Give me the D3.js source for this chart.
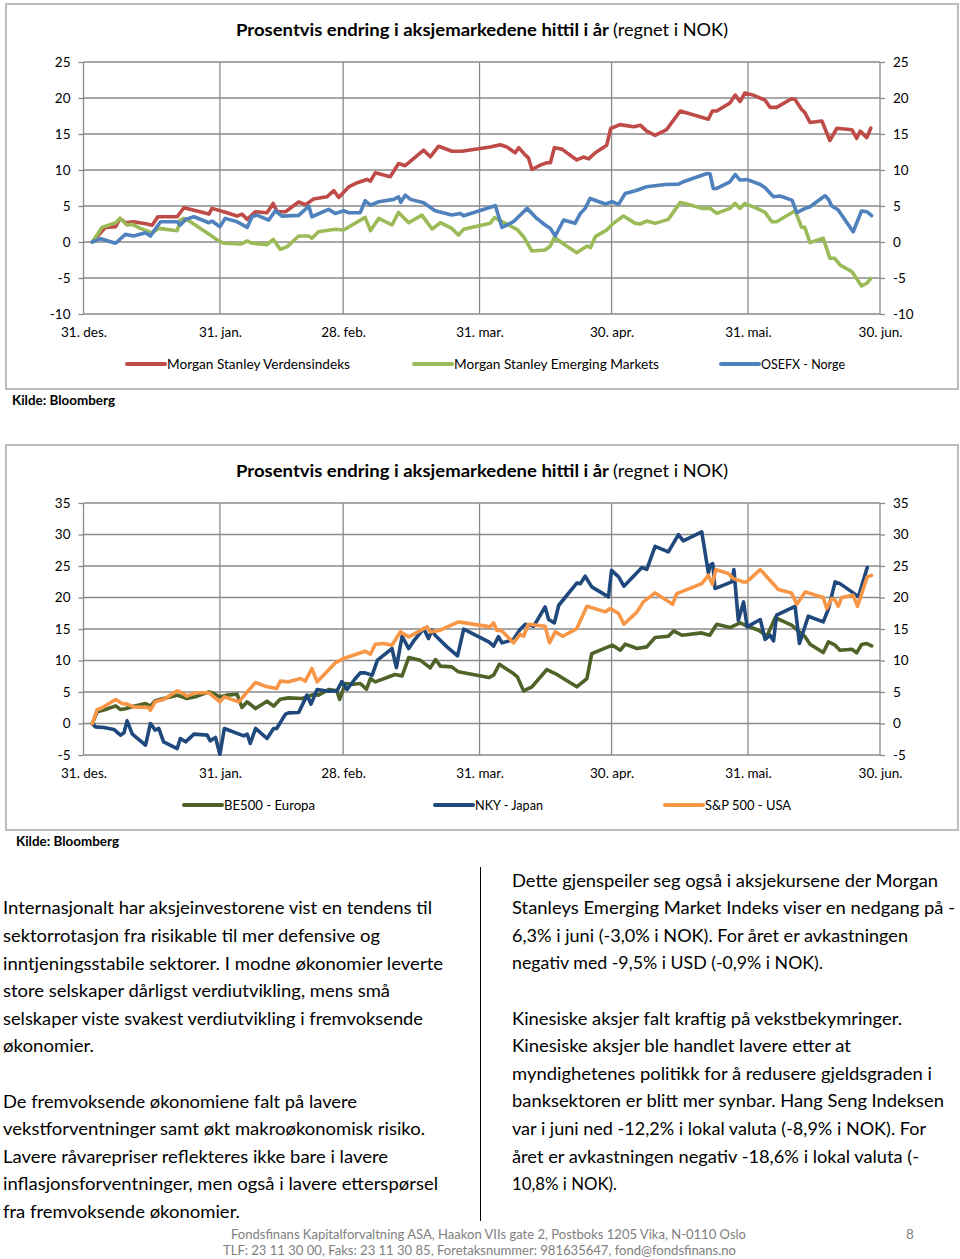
<!DOCTYPE html>
<html><head><meta charset="utf-8">
<script src="https://cdn.jsdelivr.net/npm/d3@7/dist/d3.min.js"></script>
<style>
html,body{margin:0;padding:0;background:#fff;}
svg{display:block;}
</style></head>
<body>
<svg id="page" width="960" height="1259"></svg>
<script>
// ---------- DATA (x = days since 31 Dec 2012, y = % change in NOK) ----------
const xTickDays = [0, 31, 59, 90, 120, 151, 181];
const xTickLabels = ["31. des.", "31. jan.", "28. feb.", "31. mar.", "30. apr.", "31. mai.", "30. jun."];
const chart1Ticks = [-10, -5, 0, 5, 10, 15, 20, 25];
const chart2Ticks = [-5, 0, 5, 10, 15, 20, 25, 30, 35];
const chartTitleBold = "Prosentvis endring i aksjemarkedene hittil i år";
const chartTitleNormal = "(regnet i NOK)";
const sourceLabel = "Kilde: Bloomberg";

const chart1Names = ["Morgan Stanley Verdensindeks", "Morgan Stanley Emerging Markets", "OSEFX - Norge"];
const chart2Names = ["BE500 - Europa", "NKY - Japan", "S&P 500 - USA"];

const msWorld = [[2,0],[5,2.03],[7.3,2.13],[8.3,3.28],[9.5,2.68],[11.4,2.82],[14.5,2.5],[15.6,2.31],[16.9,3.51],[21.3,3.51],[22.8,4.76],[25.8,4.3],[28.5,3.88],[29.2,4.67],[32.6,4.07],[34.9,3.6],[36,3.88],[37.2,3.14],[39.1,4.21],[41.7,4.07],[43.1,5.36],[44,4.21],[45.9,4.21],[48.9,5.55],[50.4,5.18],[52.3,5.96],[55.3,6.28],[56.9,7.12],[58,6.19],[60.3,7.67],[62.2,8.23],[64.4,8.69],[65.2,8.46],[66.3,9.61],[69.7,9.06],[71.6,10.9],[73.1,10.6],[77.3,12.75],[78.8,11.83],[80.7,13.3],[83.7,12.6],[86,12.6],[92.4,13.2],[94.7,13.5],[96.2,13.2],[98.1,12.4],[98.9,13.1],[100.4,12.06],[101.1,11.7],[101.9,10.07],[103.8,10.67],[105.3,11],[106.1,11],[107,13.1],[108.7,12.9],[112.1,11.4],[113.6,11.8],[114.8,11.55],[116.3,12.4],[118.9,13.45],[119.8,15.76],[121.9,16.3],[125,16],[126.6,16.2],[128,15.4],[129.9,14.8],[132.5,15.6],[135.6,18.2],[142,17.05],[142.9,18.2],[143.9,18.2],[146.9,19.3],[148.1,20.4],[149.2,19.5],[150.3,20.7],[152.2,20.4],[154.9,19.7],[156,18.7],[157.5,18.7],[160.9,19.9],[161.7,19.8],[163.2,18.4],[163.9,18],[165.1,16.6],[167.8,16.8],[169.6,14.1],[171.2,15.8],[174.6,15.6],[175.7,14.4],[176.5,15.4],[178,14.5],[178.9,15.8]];

const msEmerging = [[2,0],[4.2,2.03],[7.3,2.68],[8.3,3.28],[9.9,2.36],[11.1,2.45],[12.9,1.89],[15.6,1.29],[17.1,1.89],[21.3,1.57],[22,3.05],[22.8,3.28],[24.3,2.82],[28.8,0.97],[30.4,0.28],[31.9,-0.18],[35.7,-0.28],[37.2,0.14],[38.3,-0.18],[41.7,-0.37],[43.1,0.37],[44.7,-1.02],[46.3,-0.65],[48.9,0.83],[51.2,0.83],[51.9,0.51],[53.4,1.43],[57.2,1.76],[59.1,1.66],[64,3.42],[65.2,1.57],[67.1,3.28],[70.1,2.36],[71.6,4.11],[73.9,2.68],[76.9,3.74],[79.2,1.8],[81.1,2.68],[83.7,1.89],[85.2,0.97],[86.4,1.76],[92.4,2.59],[93.4,3.4],[95.1,2.82],[98.5,1.76],[100,0.74],[101.9,-1.25],[104.9,-1.11],[106.1,-0.55],[107,0.65],[109.1,-0.28],[112.1,-1.48],[114.4,-0.55],[115.2,-0.79],[116.3,0.74],[118.9,1.66],[120.4,2.59],[122.7,3.6],[125.4,2.59],[126.5,2.5],[128,2.91],[129.9,2.59],[132.9,3.14],[135.6,5.5],[137.1,5.27],[140.5,4.67],[142.4,4.67],[143.9,3.97],[146.9,4.67],[148.1,5.36],[149.2,4.67],[150.3,5.36],[153,4.67],[154.9,4.11],[156.4,2.82],[157.5,2.82],[161.7,4.34],[163.2,2.03],[163.9,2.03],[165.1,-0.09],[168.1,0.51],[169.6,-2.26],[170.7,-2.26],[171.9,-3.19],[174.6,-4.11],[176.8,-6.1],[178,-5.73],[178.9,-5.04]];

const osefx = [[2,0],[3.9,0.46],[7.3,-0.18],[9.5,1.06],[11.4,0.83],[14.1,1.29],[15.2,0.83],[17.5,2.82],[21.3,2.82],[22,2.36],[23.2,3.14],[25.1,3.51],[28.5,2.68],[29.2,2.91],[31,2.13],[32.2,3.28],[34.9,2.82],[37.2,2.03],[38.3,3.51],[39.4,3.74],[42.1,3.05],[43.6,4.34],[45.1,3.6],[48.9,3.7],[51.2,4.99],[51.9,3.51],[55.7,4.53],[57.2,3.97],[59.1,4.34],[60.3,4.07],[62.9,4.07],[64,5.73],[65.2,5.13],[67.1,5.59],[70.5,5.92],[71.6,6.28],[72.1,5.5],[73.1,6.52],[74.3,5.92],[77.3,5.45],[79.9,4.34],[83.7,3.74],[85.6,3.97],[86.4,3.65],[92.8,4.9],[93.6,5.04],[95.1,2.03],[97.7,2.82],[100.8,4.67],[103,3.28],[104.9,2.36],[106.1,1.89],[107.2,0.83],[109.1,3.05],[111.7,2.59],[112.9,3.97],[114,4.67],[115.1,6.05],[118.6,5.27],[120.1,5.59],[121.6,5.22],[123.1,6.75],[125.4,7.12],[128,7.67],[132.2,7.99],[135.2,8.04],[136.3,8.36],[141.7,9.52],[142.4,9.43],[143.1,7.44],[143.9,7.44],[146.9,8.36],[148.1,9.38],[149.2,8.6],[150.7,8.69],[153.8,7.99],[154.9,7.53],[156.8,6.28],[158.3,6.38],[161,5.82],[162.1,4.07],[164,4.67],[165.1,4.9],[168.5,6.42],[169.3,5.92],[170,5.04],[171.5,4.44],[174.9,1.43],[176.8,4.3],[178,4.21],[179.1,3.65]];

const be500 = [[2,0],[3.1,1.85],[5,2.22],[7.3,2.8],[8.4,2.22],[9.5,2.33],[11.4,2.75],[14.1,3.17],[15.2,2.75],[16.3,3.6],[18.2,3.97],[21.3,4.5],[23.5,3.97],[25.4,4.23],[28.5,5.02],[29.6,4.76],[31,4.23],[32.6,4.5],[34.9,4.65],[36,2.54],[37.2,3.44],[39.1,2.38],[41.7,3.54],[43.2,2.75],[44.7,3.86],[46.6,4.07],[49.7,3.97],[52.3,4.6],[53.4,4.5],[55.7,5.39],[57.6,5.18],[58.2,3.81],[59.5,6.35],[61.4,6.24],[62.9,6.35],[64.3,5.45],[65.2,7.14],[66.3,6.61],[70.8,7.77],[72.4,7.56],[73.9,10.47],[76.5,10.05],[78.8,8.83],[80,10.15],[81.1,9.1],[83.7,8.99],[85.2,8.2],[92.1,7.3],[93.2,7.67],[94.5,9.4],[97.7,7.93],[98.6,7.4],[100,5.18],[101.9,5.82],[105.3,8.57],[107.2,7.93],[112.1,5.82],[114.4,7.14],[115.5,11.1],[120.2,12.43],[122,11.63],[123.1,12.59],[125.8,11.9],[128,12.16],[129.9,13.64],[132.9,13.85],[134.1,14.7],[136,14.01],[140.5,14.38],[142.3,14.01],[143.9,15.76],[146.9,15.23],[149.2,15.97],[150.7,15.49],[153.4,14.81],[155.3,13.85],[157.2,16.82],[160.9,15.6],[164,13.75],[165.1,12.59],[168.1,11.26],[169.3,12.96],[170.8,12.43],[171.9,11.63],[174.6,11.79],[175.7,11.21],[176.8,12.53],[178,12.69],[179.1,12.32]];

const nky = [[2,0],[2.7,-0.53],[4.6,-0.63],[6.9,-0.95],[8.4,-1.85],[9.2,-1.48],[9.9,0.42],[11.1,-1.69],[14.1,-3.44],[15.2,0],[16.3,-1.06],[17.1,-0.79],[18.2,-2.91],[21.3,-3.97],[22,-2.38],[23.2,-2.91],[25.1,-1.69],[28.1,-1.85],[28.8,-2.75],[30,-2.22],[31,-4.87],[32,-0.79],[36.4,-1.96],[37.2,-1.69],[37.9,-3.17],[39.1,-0.79],[41.7,-2.38],[43.2,-0.79],[43.9,-0.79],[45.9,1.48],[46.6,1.69],[48.9,1.75],[50.8,4.5],[51.7,3.07],[53.1,5.39],[55.7,5.13],[57.6,5.18],[58.7,6.66],[59.9,5.39],[61.6,6.98],[62.9,8.04],[64,8.04],[65.6,7.67],[66.8,10.05],[70.1,11.9],[71.1,8.88],[72.4,13.85],[73.9,11.9],[75,13.06],[77.3,15.07],[78.4,13.48],[79.2,14.81],[79.9,14.01],[82.6,12.16],[85,10.73],[86.4,14.97],[92.1,12.96],[93.2,12.3],[94.3,13.8],[95.1,12.8],[97.7,13.33],[99.2,14.91],[100.4,15.76],[102.3,15.44],[104.9,18.5],[105.7,16.5],[107,15.97],[108,18.77],[112.1,22.3],[112.9,22.2],[114,23.37],[115.5,21.68],[119.3,20.1],[120,24.3],[121.6,23.27],[122.8,21.79],[126.9,24.75],[128,24.48],[129.9,28.13],[132.9,27.23],[135.2,29.98],[136.3,28.98],[140.5,30.41],[142,23.9],[142.4,25.12],[143,25.38],[143.5,21.42],[147.3,22.47],[147.8,24.43],[148.8,16.39],[150,19.3],[150.8,15.34],[153.8,16.5],[154.9,13.33],[156,14.01],[156.8,13.11],[157.5,17.19],[161.7,18.61],[162.7,12.69],[164.7,17.03],[168.1,16.13],[169.3,18.24],[170.8,22.47],[171.9,22.2],[174.6,20.89],[176.1,20.1],[178.1,24.75]];

const sp500 = [[2,0],[3.1,2.22],[3.9,2.38],[7.3,3.81],[8.8,3.17],[9.9,3.07],[11.4,2.64],[14.8,2.54],[15.2,2.12],[16.3,3.44],[18.2,3.81],[21.3,5.18],[22.4,4.87],[23.5,4.34],[25.4,4.87],[28.5,4.87],[31,3.44],[32,4.23],[35.3,3.44],[37.2,5.02],[39.1,6.5],[41.7,5.82],[43.9,5.55],[44.7,6.72],[46.6,6.61],[49.3,7.14],[50.4,6.72],[51.9,8.73],[53.1,6.61],[57.2,9.62],[59.1,10.31],[64,11.48],[65.2,11],[66.3,12.59],[68.2,12.69],[70.1,12.43],[72,14.54],[73.9,13.75],[78.1,15.34],[78.8,14.54],[81.1,14.81],[85.2,16.13],[92.4,15.34],[93.2,15.97],[93.9,14.81],[95.1,14.7],[97.7,12.8],[99.2,14.17],[100,13.85],[101.1,15.76],[104.9,15.44],[105.9,12.8],[107.2,14.54],[108.9,13.85],[112.1,15.07],[114.4,18.61],[118.6,17.72],[119.7,18.24],[121.6,17.45],[122.8,15.76],[125.8,17.72],[127.2,19.3],[129.9,20.73],[133.9,18.93],[134.8,20.62],[140.5,22.21],[142,23.53],[142.9,22.1],[143.7,24.43],[146.5,23.8],[147.7,23],[150,22.47],[150.7,22.47],[153.8,24.43],[157.9,21.26],[160.9,20.73],[162.1,18.93],[164,20.89],[168.1,19.99],[168.9,18.24],[170,19.83],[170.8,19.57],[171.5,18.61],[172.3,19.99],[174.9,20.36],[175.9,18.61],[178.1,23.27],[179.1,23.53]];

const leftParagraph = [
  "Internasjonalt har aksjeinvestorene vist en tendens til",
  "sektorrotasjon fra risikable til mer defensive og",
  "inntjeningsstabile sektorer. I modne økonomier leverte",
  "store selskaper dårligst verdiutvikling, mens små",
  "selskaper viste svakest verdiutvikling i fremvoksende",
  "økonomier.",
  "",
  "De fremvoksende økonomiene falt på lavere",
  "vekstforventninger samt økt makroøkonomisk risiko.",
  "Lavere råvarepriser reflekteres ikke bare i lavere",
  "inflasjonsforventninger, men også i lavere etterspørsel",
  "fra fremvoksende økonomier."
];
const rightParagraph = [
  "Dette gjenspeiler seg også i aksjekursene der Morgan",
  "Stanleys Emerging Market Indeks viser en nedgang på -",
  "6,3% i juni (-3,0% i NOK). For året er avkastningen",
  "negativ med -9,5% i USD (-0,9% i NOK).",
  "",
  "Kinesiske aksjer falt kraftig på vekstbekymringer.",
  "Kinesiske aksjer ble handlet lavere etter at",
  "myndighetenes politikk for å redusere gjeldsgraden i",
  "banksektoren er blitt mer synbar. Hang Seng Indeksen",
  "var i juni ned -12,2% i lokal valuta (-8,9% i NOK). For",
  "året er avkastningen negativ -18,6% i lokal valuta (-",
  "10,8% i NOK)."
];
const footerLines = [
  "Fondsfinans Kapitalforvaltning ASA, Haakon VIIs gate 2, Postboks 1205 Vika, N-0110 Oslo",
  "TLF: 23 11 30 00, Faks: 23 11 30 85, Foretaksnummer: 981635647, fond@fondsfinans.no"
];
const pageNumber = "8";

// ---------- LAYOUT / STYLE ----------
const FONT = "Lato, 'Open Sans', 'DejaVu Sans', sans-serif";
const leftWidths = [429, 377, 440, 387, 420, 91, 0, 354, 422, 385, 435, 237];
const rightWidths = [426, 443, 396, 311, 0, 390, 339, 420, 432, 414, 407, 105];

const svg = d3.select("#page");
svg.append("rect").attr("width", 960).attr("height", 1259).attr("fill", "#fff");

const x = d3.scaleLinear().domain([0, 181]).range([83.5, 880]);
const tickFmt = d => String(d);   // plain hyphen-minus like the original

function fitText(sel, w) {
  if (w > 0) sel.attr("textLength", w).attr("lengthAdjust", "spacingAndGlyphs");
  return sel;
}

function drawChart(cfg) {
  const g = svg.append("g");
  g.append("rect").attr("x", cfg.frame[0]).attr("y", cfg.frame[1])
    .attr("width", cfg.frame[2]).attr("height", cfg.frame[3])
    .attr("fill", "#fff").attr("stroke", "#bcbcbc").attr("stroke-width", 2);

  const y = d3.scaleLinear().domain(cfg.domain).range(cfg.range);

  // title
  fitText(g.append("text").attr("x", 236).attr("y", cfg.titleY)
    .attr("font-family", FONT).attr("font-size", 17.5).attr("font-weight", "bold")
    .attr("fill", "#000").text(chartTitleBold), 373);
  fitText(g.append("text").attr("x", 613).attr("y", cfg.titleY)
    .attr("font-family", FONT).attr("font-size", 17.5)
    .attr("fill", "#000").text(chartTitleNormal), 115);

  // gridlines
  g.append("g").selectAll("line").data(cfg.ticks).join("line")
    .attr("x1", x(0)).attr("x2", x(181))
    .attr("y1", d => y(d)).attr("y2", d => y(d))
    .attr("stroke", "#8a8a8a").attr("stroke-width", 1.3);
  g.append("g").selectAll("line").data(xTickDays).join("line")
    .attr("x1", d => x(d)).attr("x2", d => x(d))
    .attr("y1", y(cfg.domain[0])).attr("y2", y(cfg.domain[1]))
    .attr("stroke", "#8a8a8a").attr("stroke-width", 1.3);

  // axes
  const styleAxis = a => {
    a.select(".domain").remove();
    a.selectAll("line").attr("stroke", "#8a8a8a").attr("stroke-width", 1.3);
    a.selectAll("text").attr("font-family", FONT).attr("font-size", 13.5).attr("fill", "#000");
  };
  g.append("g").attr("transform", `translate(${x(0)},0)`)
    .call(d3.axisLeft(y).tickValues(cfg.ticks).tickSize(5).tickPadding(8).tickFormat(tickFmt))
    .call(styleAxis);
  g.append("g").attr("transform", `translate(${x(181)},0)`)
    .call(d3.axisRight(y).tickValues(cfg.ticks).tickSize(5).tickPadding(8).tickFormat(tickFmt))
    .call(styleAxis);
  g.append("g").attr("transform", `translate(0,${y(cfg.domain[0])})`)
    .call(d3.axisBottom(x).tickValues(xTickDays).tickSize(0).tickPadding(13)
      .tickFormat((d, i) => xTickLabels[i]))
    .call(styleAxis);

  // series
  const line = d3.line().x(d => x(d[0])).y(d => y(d[1]));
  cfg.series.forEach((s, i) => {
    g.append("path").datum(s).attr("d", line).attr("fill", "none")
      .attr("stroke", cfg.colors[i]).attr("stroke-width", 3.6)
      .attr("stroke-linejoin", "round").attr("stroke-linecap", "round");
  });

  // legend
  cfg.names.forEach((n, i) => {
    const lx = cfg.legendX[i];
    g.append("line").attr("x1", lx).attr("x2", lx + 38)
      .attr("y1", cfg.legendY).attr("y2", cfg.legendY)
      .attr("stroke", cfg.colors[i]).attr("stroke-width", 4).attr("stroke-linecap", "round");
    fitText(g.append("text").attr("x", lx + 40).attr("y", cfg.legendY + 4.5)
      .attr("font-family", FONT).attr("font-size", 13).attr("fill", "#000").text(n), cfg.legendW[i]);
  });

  // source
  fitText(svg.append("text").attr("x", cfg.sourceX).attr("y", cfg.sourceY)
    .attr("font-family", FONT).attr("font-size", 13).attr("font-weight", "bold")
    .attr("fill", "#000").text(sourceLabel), 103);
}

drawChart({
  frame: [6, 4, 952, 385], domain: [-10, 25], range: [314, 62], ticks: chart1Ticks,
  titleY: 36, series: [msWorld, msEmerging, osefx],
  colors: ["#be4b48", "#9bbb59", "#4f81bd"], names: chart1Names,
  legendX: [127, 414, 721], legendW: [183, 205, 84], legendY: 364,
  sourceX: 12, sourceY: 404.5
});
drawChart({
  frame: [6, 445, 952, 385], domain: [-5, 35], range: [755, 503], ticks: chart2Ticks,
  titleY: 477, series: [be500, nky, sp500],
  colors: ["#4f6228", "#1f497d", "#f79646"], names: chart2Names,
  legendX: [184, 435, 665], legendW: [91, 68, 86], legendY: 805,
  sourceX: 16, sourceY: 845.5
});

// ---------- text columns ----------
const lh = 27.6;
svg.append("g").selectAll("text").data(leftParagraph).join("text")
  .attr("x", 3).attr("y", (d, i) => 914.3 + i * lh)
  .attr("font-family", FONT).attr("font-size", 17.5).attr("fill", "#000")
  .text(d => d)
  .each(function (d, i) { fitText(d3.select(this), leftWidths[i]); });
svg.append("g").selectAll("text").data(rightParagraph).join("text")
  .attr("x", 512).attr("y", (d, i) => 886.5 + i * lh)
  .attr("font-family", FONT).attr("font-size", 17.5).attr("fill", "#000")
  .text(d => d)
  .each(function (d, i) { fitText(d3.select(this), rightWidths[i]); });

svg.append("line").attr("x1", 480.5).attr("x2", 480.5).attr("y1", 867).attr("y2", 1221)
  .attr("stroke", "#000").attr("stroke-width", 1);

// ---------- footer ----------
fitText(svg.append("text").attr("x", 231).attr("y", 1238.5)
  .attr("font-family", FONT).attr("font-size", 13.5).attr("fill", "#808080").text(footerLines[0]), 515);
fitText(svg.append("text").attr("x", 223).attr("y", 1254.5)
  .attr("font-family", FONT).attr("font-size", 13.5).attr("fill", "#808080").text(footerLines[1]), 513);
svg.append("text").attr("x", 906).attr("y", 1238.5)
  .attr("font-family", FONT).attr("font-size", 13.5).attr("fill", "#808080").text(pageNumber);
</script>
</body></html>
